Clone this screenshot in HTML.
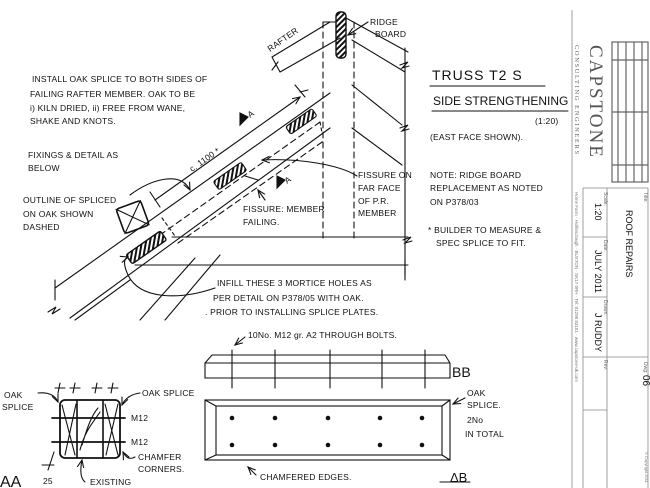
<!DOCTYPE html>
<html><head><meta charset="utf-8"><style>
html,body{margin:0;padding:0;background:#fff;}
svg{display:block;}
text{font-family:"Liberation Sans",sans-serif;fill:#111;}
.h{font-size:8.5px;letter-spacing:0.2px;}
</style></head><body>
<svg width="650" height="488" viewBox="0 0 650 488" xmlns="http://www.w3.org/2000/svg">
<defs>
<pattern id="hat" width="4" height="4" patternUnits="userSpaceOnUse" patternTransform="rotate(45)">
<rect width="4" height="4" fill="#fff"/><rect width="2" height="4" fill="#111"/></pattern>
<marker id="ar" markerWidth="8" markerHeight="8" refX="7" refY="4" orient="auto"><path d="M0,1 L7,4 L0,7" fill="none" stroke="#111" stroke-width="1"/></marker>
</defs>
<g stroke="#111" stroke-width="1.1" fill="none" stroke-linecap="round">
<line x1="323" y1="22" x2="323" y2="242" stroke-dasharray="6,4"/>
<line x1="354" y1="22" x2="354" y2="242" stroke-dasharray="6,4"/>
<line x1="323" y1="22" x2="336" y2="22"/>
<rect x="336" y="12" width="10" height="46" rx="4" fill="url(#hat)" stroke-width="1.4"/>
<line x1="346" y1="18" x2="408" y2="52"/>
<line x1="352" y1="40" x2="405" y2="72"/>
<line x1="352" y1="85" x2="402" y2="125"/>
<line x1="352" y1="128" x2="402" y2="165"/>
<line x1="405" y1="48" x2="405" y2="280"/>
<path d="M400,65 l8,-3 l-6,6 l7,-2 M400,128 l8,-3 l-6,6 l7,-2 M403,240 l8,-3 l-6,6 l7,-2"/>
<line x1="368" y1="22" x2="348" y2="35" marker-end="url(#ar)"/>
<path d="M272,57 L330,22 M280,72 L340,38 M272,57 L280,72 M272,70 l6,-8"/>
<line x1="55" y1="288" x2="330" y2="93"/>
<line x1="70" y1="318" x2="330" y2="128"/>
<path d="M300,92 l8,-2 M295,85 l10,12" />
<line x1="160" y1="235" x2="320" y2="122" stroke-dasharray="6,4"/>
<line x1="178" y1="243" x2="325" y2="140" stroke-dasharray="6,4"/>
<line x1="320" y1="122" x2="322" y2="133" stroke-dasharray="3,3"/>
<line x1="162" y1="218" x2="175" y2="236" stroke-dasharray="3,3"/>
<line x1="55" y1="280" x2="55" y2="300"/>
<path d="M48,312 l8,-5 l-4,7 l8,-5"/>
<line x1="172" y1="237" x2="408" y2="237"/>
<line x1="135" y1="265" x2="408" y2="265"/>
<line x1="405" y1="260" x2="405" y2="275"/>
<path d="M75,320 L130,280 M140,320 L195,258 M165,320 L220,255"/>
<rect x="285" y="117" width="32" height="9" rx="2" fill="url(#hat)" transform="rotate(-35 301 121)"/>
<rect x="213" y="171" width="34" height="10" rx="2" fill="url(#hat)" transform="rotate(-35 230 176)"/>
<rect x="125" y="242" width="42" height="11" rx="2" fill="url(#hat)" stroke-width="1.4" transform="rotate(-35 146 247)"/>
<g transform="rotate(-20 133 218)"><rect x="120" y="204" width="26" height="26" rx="3" stroke-width="1.6"/><path d="M120,204 L146,230 M146,204 L120,230"/></g>
<line x1="155" y1="200" x2="300" y2="97" marker-end="url(#ar)"/>
<line x1="150" y1="192" x2="160" y2="207"/>
<path d="M240,125 l0,-12 l8,4 z" fill="#111"/>
<path d="M277,188 l0,-12 l8,4 z" fill="#111"/>
<line x1="265" y1="200" x2="258" y2="190" marker-end="url(#ar)"/>
<line x1="245" y1="176" x2="258" y2="180"/>
<path d="M130,195 C150,180 180,170 190,190" marker-end="url(#ar)"/>
<path d="M357,176 C340,165 300,158 262,160" marker-end="url(#ar)"/>
<path d="M215,288 C180,300 140,300 128,275 C122,262 125,258 128,257" marker-end="url(#ar)"/>
<path d="M205,363 L212,355 L445,355 L450,363 L450,378 L205,378 Z"/>
<line x1="205" y1="363" x2="450" y2="363"/>
<path d="M232,350 V388 M275,350 V388 M330,350 V388 M382,350 V388 M425,350 V388"/>
<path d="M245,337 l-10,8" marker-end="url(#ar)"/>
<rect x="205" y="400" width="245" height="60"/>
<rect x="216" y="406" width="226" height="49"/>
<path d="M205,400 L216,406 M450,400 L442,406 M205,460 L216,455 M450,460 L442,455"/>
<path d="M465,398 l-12,6" marker-end="url(#ar)"/>
<path d="M256,475 l-8,-8" marker-end="url(#ar)"/>
<path d="M440,482 H470"/>
<rect x="60" y="400" width="60" height="58" rx="5" stroke-width="1.8"/>
<path d="M77,400 V458 M103,400 V458" stroke-width="1.6"/>
<path d="M52,418 H125 M52,442 H125" stroke-width="1.8"/>
<path d="M62,405 L75,455 M65,455 L76,404 M105,404 L118,455 M106,455 L118,404 M80,450 C85,430 95,420 100,412 M82,445 C88,425 92,415 98,408"/>
<path d="M55,388 h10 M60,383 l-2,10 M70,388 h10 M75,383 l-2,10 M92,388 h10 M97,383 l-2,10 M108,388 h10 M113,383 l-2,10"/>
<path d="M48,470 l6,-18 M42,465 h12"/>
<path d="M38,393 C48,392 55,395 58,402" marker-end="url(#ar)"/>
<path d="M140,393 C132,394 125,398 122,405" marker-end="url(#ar)"/>
<path d="M135,457 C130,460 126,458 123,452" marker-end="url(#ar)"/>
<path d="M85,482 C80,478 80,470 82,460" marker-end="url(#ar)"/>
<path d="M430,86 H545 M432,111 H568"/>
</g>
<g fill="#111">
<circle cx="232" cy="418" r="2.3"/><circle cx="275" cy="418" r="2.3"/><circle cx="328" cy="418" r="2.3"/><circle cx="380" cy="418" r="2.3"/><circle cx="422" cy="418" r="2.3"/>
<circle cx="232" cy="445" r="2.3"/><circle cx="275" cy="445" r="2.3"/><circle cx="328" cy="445" r="2.3"/><circle cx="380" cy="445" r="2.3"/><circle cx="422" cy="445" r="2.3"/>
</g>
<text class="h" x="32" y="82">INSTALL OAK SPLICE TO BOTH SIDES OF</text>
<text class="h" x="30" y="97">FAILING RAFTER MEMBER. OAK TO BE</text>
<text class="h" x="30" y="111">i) KILN DRIED, ii) FREE FROM WANE,</text>
<text class="h" x="30" y="124">SHAKE AND KNOTS.</text>
<text class="h" x="28" y="158">FIXINGS &amp; DETAIL AS</text>
<text class="h" x="28" y="171">BELOW</text>
<text class="h" x="23" y="203">OUTLINE OF SPLICED</text>
<text class="h" x="23" y="217">ON OAK SHOWN</text>
<text class="h" x="23" y="230">DASHED</text>
<text class="h" x="192" y="172" transform="rotate(-35 192 172)">c. 1100 *</text>
<text class="h" x="250" y="118" transform="rotate(-35 250 118)">A</text>
<text class="h" x="287" y="184" transform="rotate(-35 287 184)">A</text>
<text class="h" x="243" y="212">FISSURE: MEMBER</text>
<text class="h" x="243" y="225">FAILING.</text>
<text class="h" x="358" y="178">FISSURE ON</text>
<text class="h" x="358" y="191">FAR FACE</text>
<text class="h" x="358" y="204">OF P.R.</text>
<text class="h" x="358" y="216">MEMBER</text>
<text class="h" x="370" y="25">RIDGE</text>
<text class="h" x="375" y="37">BOARD</text>
<text class="h" x="270" y="52" transform="rotate(-35 270 52)">RAFTER</text>
<text class="h" x="217" y="286">INFILL THESE 3 MORTICE HOLES AS</text>
<text class="h" x="213" y="301">PER DETAIL ON P378/05 WITH OAK.</text>
<text class="h" x="205" y="315">. PRIOR TO INSTALLING SPLICE PLATES.</text>
<text x="432" y="80" style="font-size:14px;letter-spacing:1px">TRUSS T2 S</text>
<text x="433" y="105" style="font-size:12px;letter-spacing:0px">SIDE STRENGTHENING</text>
<text class="h" x="535" y="124">(1:20)</text>
<text class="h" x="430" y="140">(EAST FACE SHOWN).</text>
<text class="h" x="430" y="178">NOTE: RIDGE BOARD</text>
<text class="h" x="430" y="191">REPLACEMENT AS NOTED</text>
<text class="h" x="430" y="205">ON P378/03</text>
<text class="h" x="428" y="233">* BUILDER TO MEASURE &amp;</text>
<text class="h" x="436" y="246">SPEC SPLICE TO FIT.</text>
<text class="h" x="248" y="338">10No. M12 gr. A2 THROUGH BOLTS.</text>
<text x="452" y="377" style="font-size:14px">BB</text>
<text class="h" x="467" y="396">OAK</text>
<text class="h" x="467" y="408">SPLICE.</text>
<text class="h" x="467" y="423">2No</text>
<text class="h" x="465" y="437">IN TOTAL</text>
<text class="h" x="260" y="480">CHAMFERED EDGES.</text>
<text x="450" y="482" style="font-size:13px">ΔB</text>
<text class="h" x="4" y="398">OAK</text>
<text class="h" x="2" y="410">SPLICE</text>
<text class="h" x="142" y="396">OAK SPLICE</text>
<text class="h" x="131" y="421">M12</text>
<text class="h" x="131" y="445">M12</text>
<text class="h" x="138" y="460">CHAMFER</text>
<text class="h" x="138" y="472">CORNERS.</text>
<text class="h" x="90" y="485">EXISTING</text>
<text x="0" y="487" style="font-size:16px">AA</text>
<text class="h" x="43" y="484">25</text>
<g stroke="#888" stroke-width="0.8" fill="none">
<line x1="572" y1="10" x2="572" y2="488"/>
<line x1="583" y1="188" x2="583" y2="488"/>
<line x1="607" y1="188" x2="607" y2="488"/>
<line x1="648" y1="188" x2="648" y2="488"/>
<line x1="583" y1="188" x2="648" y2="188"/>
<line x1="583" y1="237" x2="607" y2="237"/>
<line x1="583" y1="297" x2="607" y2="297"/>
<line x1="583" y1="357" x2="648" y2="357"/>
<line x1="583" y1="410" x2="607" y2="410"/>
</g>
<g stroke="#666" stroke-width="1.2" fill="none">
<rect x="612" y="42" width="36" height="140"/>
<path d="M618,42 V182 M626,42 V182 M634,42 V182 M642,42 V182 M612,60 H648 M612,112 H648 M612,165 H648"/>
</g>
<g fill="#444">
<text transform="translate(590 45) rotate(90)" style="font-family:'Liberation Serif',serif;font-size:19px;fill:#555;letter-spacing:2px">CAPSTONE</text>
<text transform="translate(575 45) rotate(90)" style="font-family:'Liberation Serif',serif;font-size:6.5px;fill:#666;letter-spacing:1.6px">CONSULTING ENGINEERS</text>
<text transform="translate(575 192) rotate(90)" style="font-size:4.5px;fill:#777">Home Farm · Hollinsclough · BUXTON · SK17 0RH · Tel: 01298 83151 · www.capstone-uk.com</text>
<text transform="translate(644 192) rotate(90)" style="font-size:5px;fill:#666">Title:</text>
<text transform="translate(626 210) rotate(90)" style="font-size:9px">ROOF REPAIRS</text>
<text transform="translate(604 192) rotate(90)" style="font-size:5px;fill:#666">Scale:</text>
<text transform="translate(595 203) rotate(90)" style="font-size:9px">1:20</text>
<text transform="translate(604 240) rotate(90)" style="font-size:5px;fill:#666">Date:</text>
<text transform="translate(595 250) rotate(90)" style="font-size:9px">JULY 2011</text>
<text transform="translate(604 300) rotate(90)" style="font-size:5px;fill:#666">Drawn:</text>
<text transform="translate(595 313) rotate(90)" style="font-size:9px">J RUDDY</text>
<text transform="translate(604 360) rotate(90)" style="font-size:5px;fill:#666">Rev:</text>
<text transform="translate(644 362) rotate(90)" style="font-size:5px;fill:#666">Dwg:</text>
<text transform="translate(643 375) rotate(90)" style="font-size:10px">06</text>
<text transform="translate(645 452) rotate(90)" style="font-size:4px;fill:#777">© Copyright 2011</text>
</g>
</svg>
</body></html>
